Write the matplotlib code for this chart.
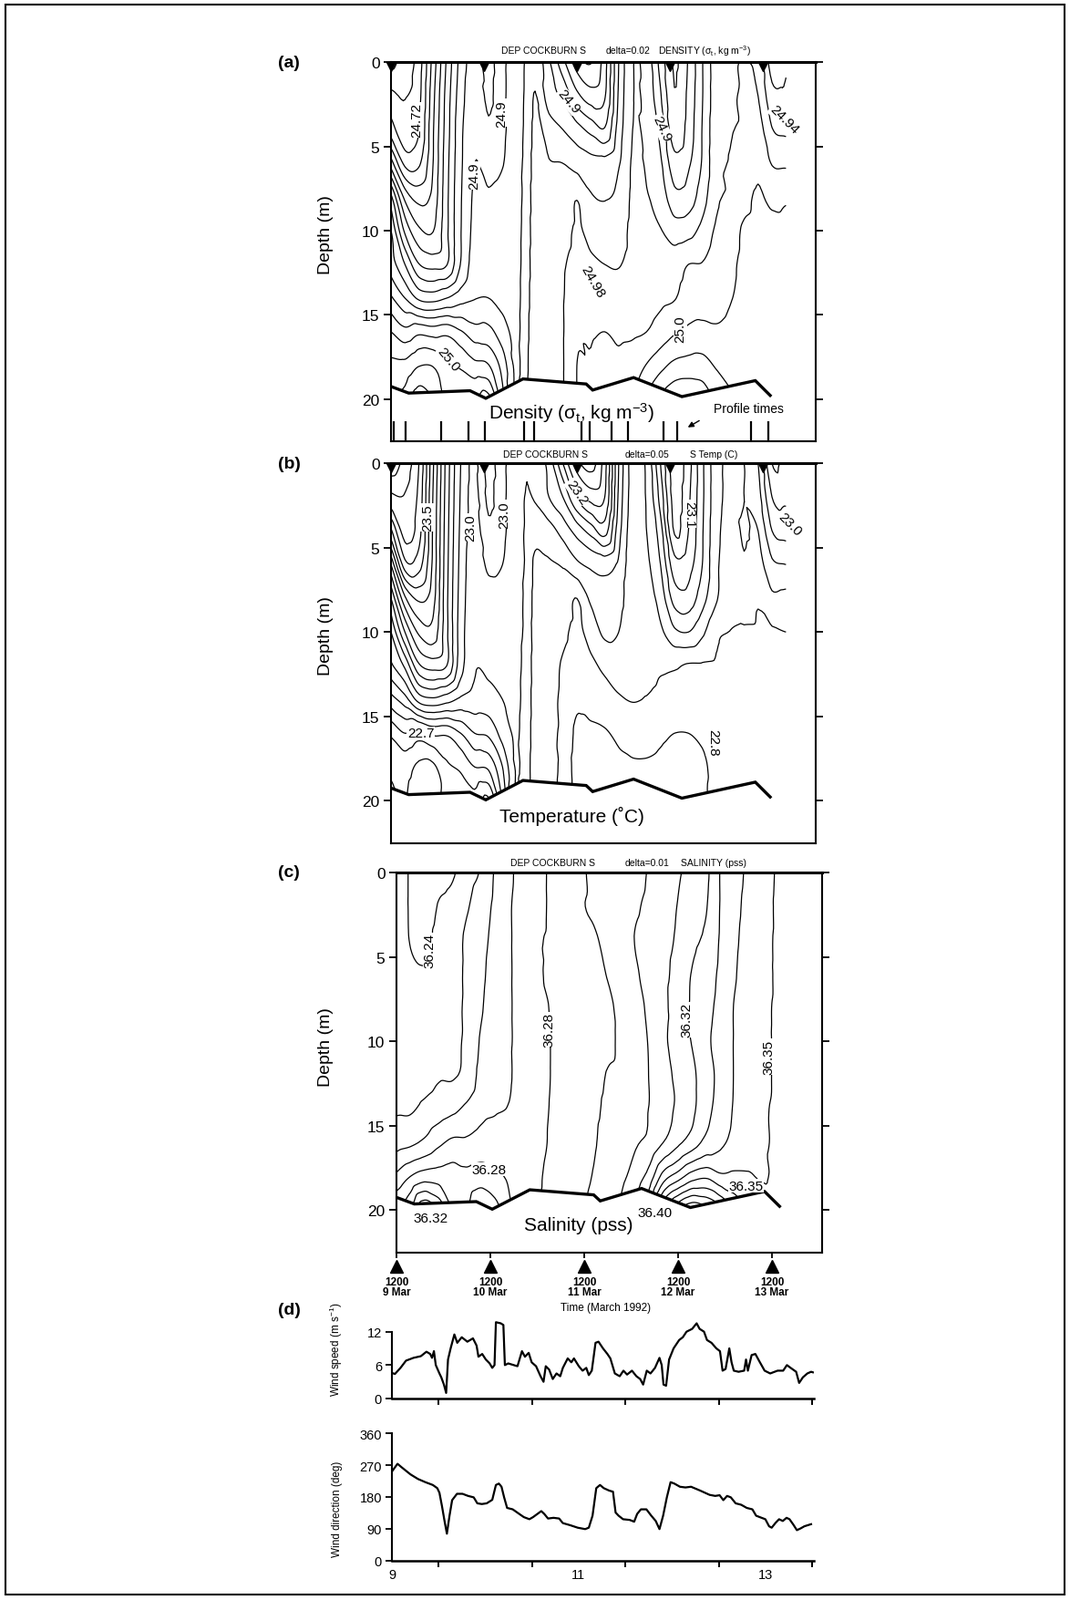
import numpy as np
import matplotlib
matplotlib.use('Agg')
import matplotlib.pyplot as plt
import matplotlib.tri as mtri
from matplotlib.patches import Rectangle

plt.rcParams['font.family'] = ['Liberation Sans', 'DejaVu Sans']
plt.rcParams['mathtext.fontset'] = 'custom'
plt.rcParams['mathtext.rm'] = 'Liberation Sans'
plt.rcParams['mathtext.it'] = 'Liberation Sans:italic'
plt.rcParams['mathtext.bf'] = 'Liberation Sans:bold'

# ---------------- data ----------------
depth_rows = [0, 2, 4, 6, 8, 10, 12, 14, 16, 18, 20]

section_times = [9.5, 9.65, 9.8, 9.95, 10.1, 10.25, 10.4, 10.55, 10.7, 10.85, 10.95, 11.05,
                 11.2, 11.35, 11.5, 11.65, 11.8, 11.95, 12.1, 12.25, 12.4, 12.55, 12.7,
                 12.85, 13.0, 13.15, 13.3, 13.45, 13.6, 13.75]

density_cols = [
    [24.675, 24.705, 24.730, 24.790, 24.865, 24.900, 24.910, 24.943, 24.980, 25.005, 25.020],
    [24.689, 24.699, 24.705, 24.735, 24.794, 24.836, 24.880, 24.920, 24.966, 25.006, 25.027],
    [24.710, 24.714, 24.719, 24.737, 24.773, 24.804, 24.841, 24.896, 24.975, 25.019, 25.052],
    [24.767, 24.773, 24.777, 24.779, 24.786, 24.799, 24.833, 24.892, 24.971, 25.019, 25.041],
    [24.823, 24.828, 24.830, 24.833, 24.835, 24.836, 24.839, 24.900, 24.974, 25.004, 25.017],
    [24.867, 24.871, 24.875, 24.876, 24.878, 24.879, 24.881, 24.912, 24.962, 24.997, 25.014],
    [24.889, 24.894, 24.896, 24.900, 24.903, 24.905, 24.909, 24.919, 24.948, 24.986, 25.019],
    [24.873, 24.876, 24.883, 24.893, 24.902, 24.906, 24.910, 24.920, 24.946, 24.981, 25.027],
    [24.896, 24.896, 24.896, 24.899, 24.907, 24.908, 24.910, 24.914, 24.929, 24.952, 24.969],
    [24.909, 24.911, 24.912, 24.914, 24.914, 24.915, 24.915, 24.915, 24.916, 24.916, 24.916],
    [24.922, 24.923, 24.924, 24.925, 24.926, 24.927, 24.928, 24.930, 24.932, 24.934, 24.935],
    [24.935, 24.941, 24.945, 24.948, 24.950, 24.951, 24.952, 24.953, 24.955, 24.956, 24.957],
    [24.903, 24.909, 24.930, 24.941, 24.944, 24.947, 24.948, 24.950, 24.951, 24.951, 24.951],
    [24.866, 24.896, 24.920, 24.940, 24.947, 24.953, 24.958, 24.959, 24.959, 24.959, 24.959],
    [24.830, 24.866, 24.908, 24.932, 24.959, 24.962, 24.965, 24.971, 24.977, 24.980, 24.980],
    [24.819, 24.849, 24.894, 24.927, 24.942, 24.954, 24.963, 24.969, 24.978, 24.981, 24.981],
    [24.852, 24.858, 24.882, 24.927, 24.939, 24.945, 24.960, 24.969, 24.980, 24.987, 24.987],
    [24.920, 24.923, 24.929, 24.938, 24.944, 24.950, 24.959, 24.967, 24.977, 24.983, 24.986],
    [24.959, 24.959, 24.960, 24.962, 24.963, 24.965, 24.966, 24.971, 24.977, 24.990, 25.001],
    [24.952, 24.954, 24.955, 24.958, 24.961, 24.964, 24.967, 24.972, 24.980, 25.001, 25.018],
    [24.913, 24.922, 24.934, 24.943, 24.952, 24.961, 24.972, 24.976, 24.989, 25.014, 25.043],
    [24.878, 24.881, 24.886, 24.908, 24.926, 24.950, 24.971, 24.979, 24.998, 25.025, 25.058],
    [24.902, 24.905, 24.908, 24.917, 24.929, 24.953, 24.980, 24.989, 25.004, 25.028, 25.061],
    [24.939, 24.939, 24.941, 24.942, 24.951, 24.966, 24.981, 24.990, 25.006, 25.028, 25.055],
    [24.971, 24.971, 24.973, 24.974, 24.976, 24.983, 24.989, 24.992, 25.003, 25.018, 25.037],
    [24.978, 24.978, 24.979, 24.981, 24.983, 24.990, 24.996, 24.999, 25.005, 25.013, 25.024],
    [24.980, 24.981, 24.982, 24.986, 24.993, 25.003, 25.004, 25.004, 25.009, 25.011, 25.017],
    [24.974, 24.980, 24.989, 24.995, 25.003, 25.006, 25.007, 25.007, 25.009, 25.011, 25.015],
    [24.931, 24.946, 24.961, 24.979, 24.994, 25.008, 25.009, 25.009, 25.011, 25.012, 25.012],
    [24.938, 24.944, 24.956, 24.977, 24.997, 25.007, 25.010, 25.010, 25.011, 25.012, 25.012],
]

temperature_cols = [
    [23.68, 23.59, 23.44, 23.25, 23.10, 23.00, 22.94, 22.83, 22.71, 22.66, 22.64],
    [23.63, 23.595, 23.575, 23.48, 23.29, 23.15, 23.01, 22.88, 22.75, 22.67, 22.65],
    [23.55, 23.535, 23.52, 23.47, 23.36, 23.26, 23.14, 22.97, 22.73, 22.64, 22.62],
    [23.36, 23.35, 23.345, 23.34, 23.32, 23.28, 23.17, 22.99, 22.76, 22.64, 22.63],
    [23.18, 23.175, 23.17, 23.165, 23.16, 23.16, 23.15, 22.97, 22.76, 22.69, 22.66],
    [23.05, 23.045, 23.04, 23.035, 23.03, 23.025, 23.02, 22.94, 22.80, 22.71, 22.67],
    [22.99, 22.985, 22.98, 22.97, 22.965, 22.96, 22.955, 22.93, 22.85, 22.75, 22.68],
    [23.07, 23.06, 23.04, 23.01, 22.98, 22.97, 22.96, 22.93, 22.86, 22.76, 22.64],
    [23.01, 23.01, 23.01, 23.00, 22.975, 22.97, 22.965, 22.95, 22.92, 22.85, 22.80],
    [22.98, 22.975, 22.97, 22.965, 22.965, 22.96, 22.96, 22.96, 22.955, 22.955, 22.955],
    [22.952, 22.948, 22.945, 22.945, 22.94, 22.94, 22.935, 22.93, 22.925, 22.92, 22.915],
    [22.96, 22.955, 22.92, 22.89, 22.885, 22.88, 22.88, 22.88, 22.88, 22.88, 22.88],
    [23.02, 23.00, 22.93, 22.895, 22.885, 22.875, 22.87, 22.865, 22.86, 22.86, 22.86],
    [23.15, 23.05, 22.97, 22.905, 22.88, 22.86, 22.845, 22.84, 22.84, 22.84, 22.84],
    [23.28, 23.16, 23.02, 22.94, 22.85, 22.84, 22.83, 22.81, 22.79, 22.78, 22.78],
    [23.32, 23.22, 23.07, 22.96, 22.91, 22.87, 22.84, 22.82, 22.79, 22.78, 22.78],
    [23.22, 23.20, 23.12, 22.97, 22.93, 22.91, 22.86, 22.83, 22.795, 22.77, 22.77],
    [23.00, 22.99, 22.97, 22.94, 22.92, 22.90, 22.87, 22.845, 22.81, 22.79, 22.78],
    [22.88, 22.88, 22.875, 22.87, 22.865, 22.86, 22.857, 22.852, 22.82, 22.795, 22.79],
    [22.91, 22.905, 22.90, 22.89, 22.88, 22.87, 22.86, 22.848, 22.82, 22.795, 22.79],
    [23.05, 23.02, 22.98, 22.95, 22.92, 22.89, 22.855, 22.84, 22.81, 22.79, 22.79],
    [23.18, 23.17, 23.155, 23.08, 23.02, 22.94, 22.855, 22.835, 22.80, 22.78, 22.78],
    [23.12, 23.11, 23.10, 23.07, 23.03, 22.95, 22.845, 22.825, 22.80, 22.79, 22.785],
    [23.01, 23.01, 23.005, 23.00, 22.97, 22.91, 22.845, 22.83, 22.81, 22.79, 22.79],
    [22.92, 22.92, 22.915, 22.91, 22.905, 22.86, 22.845, 22.84, 22.83, 22.82, 22.82],
    [22.89, 22.89, 22.885, 22.88, 22.87, 22.849, 22.845, 22.84, 22.835, 22.83, 22.83],
    [22.90, 22.90, 22.905, 22.895, 22.875, 22.845, 22.84, 22.84, 22.835, 22.83, 22.83],
    [22.95, 22.93, 22.90, 22.88, 22.855, 22.845, 22.84, 22.84, 22.835, 22.83, 22.83],
    [23.10, 23.05, 23.00, 22.94, 22.89, 22.845, 22.84, 22.84, 22.835, 22.83, 22.83],
    [23.08, 23.06, 23.02, 22.95, 22.885, 22.85, 22.84, 22.84, 22.835, 22.83, 22.83],
]

salinity_times = [9.5, 9.65, 9.8, 9.95, 10.1, 10.25, 10.4, 10.55, 10.7, 10.85, 11.0, 11.15,
                  11.3, 11.45, 11.6, 11.75, 11.9, 12.05, 12.2, 12.35, 12.5, 12.65, 12.8,
                  12.95, 13.1, 13.25, 13.4, 13.55, 13.75]

salinity_cols = [
    [36.246, 36.246, 36.246, 36.246, 36.246, 36.246, 36.247, 36.249, 36.256, 36.272, 36.290],
    [36.239, 36.239, 36.2395, 36.242, 36.245, 36.246, 36.247, 36.249, 36.258, 36.280, 36.300],
    [36.236, 36.236, 36.237, 36.241, 36.245, 36.246, 36.247, 36.252, 36.262, 36.285, 36.320],
    [36.237, 36.2405, 36.243, 36.245, 36.246, 36.247, 36.249, 36.255, 36.268, 36.285, 36.310],
    [36.239, 36.243, 36.245, 36.246, 36.247, 36.248, 36.249, 36.258, 36.272, 36.285, 36.290],
    [36.246, 36.249, 36.252, 36.252, 36.252, 36.252, 36.253, 36.262, 36.272, 36.283, 36.290],
    [36.251, 36.255, 36.257, 36.258, 36.259, 36.261, 36.263, 36.267, 36.274, 36.285, 36.300],
    [36.261, 36.262, 36.263, 36.264, 36.265, 36.266, 36.267, 36.269, 36.275, 36.282, 36.295],
    [36.268, 36.269, 36.269, 36.269, 36.269, 36.269, 36.269, 36.2705, 36.276, 36.279, 36.282],
    [36.274, 36.274, 36.274, 36.274, 36.274, 36.274, 36.275, 36.275, 36.276, 36.277, 36.278],
    [36.278, 36.278, 36.279, 36.279, 36.278, 36.278, 36.278, 36.278, 36.278, 36.279, 36.2805],
    [36.281, 36.281, 36.281, 36.281, 36.2805, 36.2802, 36.2802, 36.2805, 36.281, 36.282, 36.282],
    [36.284, 36.284, 36.284, 36.284, 36.284, 36.284, 36.284, 36.284, 36.285, 36.285, 36.286],
    [36.288, 36.289, 36.287, 36.286, 36.286, 36.286, 36.286, 36.287, 36.287, 36.288, 36.289],
    [36.292, 36.291, 36.289, 36.287, 36.286, 36.286, 36.287, 36.288, 36.289, 36.2905, 36.292],
    [36.294, 36.293, 36.292, 36.2905, 36.288, 36.288, 36.2905, 36.292, 36.294, 36.296, 36.298],
    [36.296, 36.296, 36.295, 36.294, 36.293, 36.292, 36.292, 36.293, 36.295, 36.298, 36.302],
    [36.297, 36.299, 36.3005, 36.299, 36.297, 36.296, 36.296, 36.297, 36.299, 36.305, 36.315],
    [36.301, 36.302, 36.303, 36.303, 36.302, 36.301, 36.3005, 36.3005, 36.303, 36.315, 36.330],
    [36.304, 36.305, 36.306, 36.307, 36.307, 36.308, 36.306, 36.306, 36.3105, 36.335, 36.370],
    [36.309, 36.3105, 36.312, 36.315, 36.318, 36.316, 36.313, 36.312, 36.318, 36.345, 36.390],
    [36.313, 36.315, 36.318, 36.3205, 36.321, 36.3205, 36.318, 36.318, 36.325, 36.355, 36.4005],
    [36.318, 36.3195, 36.322, 36.325, 36.327, 36.328, 36.326, 36.327, 36.333, 36.358, 36.395],
    [36.3305, 36.3305, 36.331, 36.332, 36.333, 36.334, 36.333, 36.334, 36.338, 36.352, 36.385],
    [36.336, 36.337, 36.338, 36.339, 36.3405, 36.3405, 36.3405, 36.341, 36.343, 36.352, 36.370],
    [36.342, 36.343, 36.344, 36.345, 36.345, 36.345, 36.345, 36.346, 36.347, 36.351, 36.360],
    [36.346, 36.346, 36.347, 36.347, 36.348, 36.348, 36.348, 36.349, 36.349, 36.349, 36.358],
    [36.3506, 36.351, 36.351, 36.351, 36.351, 36.351, 36.351, 36.351, 36.351, 36.352, 36.353],
    [36.353, 36.353, 36.353, 36.353, 36.353, 36.353, 36.353, 36.353, 36.353, 36.353, 36.353],
]

bottom_t = [9.5, 9.69, 10.35, 10.52, 10.92, 11.6, 11.67, 12.11, 12.63, 13.42, 13.58]
bottom_z = [19.25, 19.64, 19.5, 19.95, 18.8, 19.1, 19.46, 18.72, 19.85, 18.9, 19.78]

noon_times = [9.5, 10.5, 11.5, 12.5, 13.5]
noon_labels = ['9 Mar', '10 Mar', '11 Mar', '12 Mar', '13 Mar']
profile_times = [9.53, 9.66, 10.04, 10.33, 10.51, 10.93, 11.04, 11.55, 11.64, 11.87,
                 12.05, 12.43, 12.58, 13.37, 13.56]

density_labels = [('24.72', 9.78, 3.4, 90), ('24.9', 10.39, 6.7, 90), ('24.9', 10.69, 3.0, 90),
                  ('24.9', 11.41, 2.3, -50), ('24.9', 12.41, 3.9, -65), ('24.94', 13.73, 3.4, -45),
                  ('24.98', 11.67, 13.0, -60), ('25.0', 12.61, 15.8, 90), ('25.0', 10.12, 17.6, -50)]
temperature_labels = [('23.5', 9.89, 3.2, 90), ('23.0', 10.36, 3.8, 90), ('23.0', 10.72, 3.0, 90),
                      ('23.2', 11.5, 1.7, -55), ('23.1', 12.71, 3.0, -90), ('23.0', 13.79, 3.6, -45),
                      ('22.7', 9.82, 16.0, 0), ('22.8', 12.96, 16.5, -90)]
salinity_labels = [('36.24', 9.856, 4.6, 90), ('36.28', 11.13, 9.3, 90), ('36.32', 12.59, 8.7, 90),
                   ('36.35', 13.46, 10.9, 90), ('36.28', 10.49, 17.6, 0), ('36.35', 13.22, 18.56, 0)]
salinity_labels_below = [('36.32', 9.86, 20.45), ('36.40', 12.25, 20.15)]

wind_speed_day = [
    9.000, 9.032, 9.092, 9.151, 9.231, 9.310, 9.370, 9.410, 9.430, 9.450,
    9.470, 9.509, 9.529, 9.557, 9.581, 9.601, 9.629, 9.669, 9.700, 9.748,
    9.808, 9.868, 9.907, 9.927, 9.967, 10.006, 10.047, 10.075, 10.099, 10.114,
    10.166, 10.194, 10.210, 10.246, 10.305, 10.345, 10.393, 10.425, 10.465, 10.497,
    10.544, 10.592, 10.624, 10.648, 10.684, 10.723, 10.763, 10.803, 10.831, 10.883,
    10.922, 10.950, 11.002, 11.042, 11.082, 11.109, 11.141, 11.181, 11.213, 11.261,
    11.308, 11.340, 11.388, 11.440, 11.480, 11.519, 11.571, 11.619, 11.659, 11.691,
    11.730, 11.770, 11.818, 11.866, 11.890, 11.909, 11.937, 11.969, 12.017, 12.077,
    12.116, 12.156, 12.216, 12.264, 12.296, 12.343, 12.375, 12.423, 12.475, 12.514,
    12.542, 12.574, 12.614, 12.638, 12.662, 12.713, 12.773, 12.793, 12.813, 12.853,
    12.893, 12.932, 12.992, 13.052, 13.131, 13.191, 13.231, 13.271, 13.330, 13.362,
    13.402, 13.450, 13.490, 13.509]
wind_speed = [
    4.6, 4.4, 5.5, 6.8, 7.3, 7.6, 8.4, 8.0, 7.3, 8.5,
    6.0, 4.5, 3.8, 2.5, 1.0, 7.0, 9.0, 11.5, 10.0, 11.0,
    10.2, 10.8, 9.5, 7.5, 8.0, 7.0, 6.3, 5.5, 6.0, 13.7,
    13.5, 13.2, 6.0, 6.3, 6.0, 5.8, 8.5, 7.5, 8.2, 6.5,
    5.8, 4.0, 3.0, 5.8, 5.2, 3.5, 4.5, 4.0, 5.5, 7.2,
    6.5, 7.2, 5.8, 5.0, 5.5, 4.2, 5.0, 10.0, 10.2, 9.0,
    8.0, 7.2, 4.5, 4.0, 5.0, 4.3, 5.0, 4.0, 3.5, 2.5,
    5.0, 4.5, 5.5, 7.3, 6.0, 2.5, 2.3, 7.0, 9.0, 10.5,
    11.0, 12.0, 12.5, 13.5, 12.5, 12.0, 10.5, 10.0, 9.0, 8.5,
    5.0, 5.3, 9.0, 6.5, 5.0, 4.8, 5.0, 7.0, 5.0, 7.8,
    8.0, 6.8, 5.0, 4.5, 5.0, 5.0, 6.0, 5.5, 4.8, 2.8,
    3.8, 4.5, 4.8, 4.7]

wind_dir_day = [
    9.000, 9.060, 9.100, 9.199, 9.279, 9.358, 9.438, 9.486, 9.509, 9.537,
    9.565, 9.589, 9.617, 9.645, 9.697, 9.756, 9.816, 9.876, 9.915, 9.963,
    10.015, 10.075, 10.114, 10.146, 10.174, 10.202, 10.234, 10.294, 10.353, 10.413,
    10.473, 10.512, 10.600, 10.632, 10.672, 10.731, 10.791, 10.831, 10.910, 10.990,
    11.070, 11.109, 11.149, 11.189, 11.229, 11.269, 11.328, 11.368, 11.396, 11.428,
    11.476, 11.547, 11.595, 11.627, 11.667, 11.726, 11.778, 11.826, 11.866, 11.905,
    11.945, 11.985, 12.025, 12.085, 12.144, 12.204, 12.303, 12.403, 12.463, 12.510,
    12.550, 12.590, 12.630, 12.682, 12.741, 12.801, 12.861, 12.901, 12.940, 13.000,
    13.040, 13.068, 13.107, 13.147, 13.187, 13.227, 13.259, 13.299, 13.338, 13.378,
    13.418, 13.490]
wind_dir = [
    252, 274, 265, 244, 231, 222, 214, 205, 192, 153,
    110, 76, 127, 171, 189, 189, 183, 179, 162, 160,
    162, 172, 214, 218, 209, 179, 149, 145, 134, 123,
    117, 123, 140, 132, 119, 121, 119, 106, 100, 93,
    89, 93, 127, 205, 214, 205, 198, 195, 136, 127,
    117, 115, 110, 132, 145, 145, 127, 112, 89, 127,
    179, 222, 218, 209, 207, 209, 198, 186, 183, 185,
    171, 183, 179, 162, 158, 149, 145, 127, 123, 117,
    97, 93, 106, 117, 112, 121, 117, 102, 86, 91,
    97, 103]

# ---------------- helpers ----------------
W, H = 1174, 1756
fig = plt.figure(figsize=(W / 100, H / 100), dpi=100)


def fbox(l, r, t, b):
    return [l / W, 1 - b / H, (r - l) / W, (b - t) / H]


def refined(times, cols, scale=5.5):
    V = np.array(cols, dtype=float)          # (nt, nz)
    nt, nz = V.shape
    x = np.repeat(np.array(times, float), nz)
    y = np.tile(np.array(depth_rows, float), nt) / scale
    tris = []
    for i in range(nt - 1):
        for j in range(nz - 1):
            a = i * nz + j
            b = (i + 1) * nz + j
            c = i * nz + j + 1
            d = (i + 1) * nz + j + 1
            tris.append([a, b, d])
            tris.append([a, d, c])
    tri = mtri.Triangulation(x, y, np.array(tris))
    interp = mtri.CubicTriInterpolator(tri, V.ravel(), kind='geom')
    rtri, rv = mtri.UniformTriRefiner(tri).refine_field(V.ravel(), triinterpolator=interp, subdiv=3)
    return mtri.Triangulation(rtri.x, rtri.y * scale, rtri.triangles), rv


def section(ax, times, cols, levels, xlim, labels):
    tri, val = refined(times, cols)
    ax.tricontour(tri, val, levels=levels, colors='k', linewidths=0.9, zorder=1)
    ax.fill_between(bottom_t, bottom_z, 23.5, color='white', zorder=2, lw=0)
    ax.plot(bottom_t, bottom_z, color='k', lw=2.4, zorder=3, solid_joinstyle='miter')
    ax.set_xlim(*xlim)
    ax.set_ylim(22.5, 0)
    ax.set_yticks([0, 5, 10, 15, 20])
    ax.tick_params(axis='y', direction='out', length=6, width=1.3, labelsize=12.5,
                   left=True, right=True, labelright=False, pad=3)
    ax.set_xticks([])
    for s in ax.spines.values():
        s.set_linewidth(1.5)
    ax.spines['top'].set_linewidth(2.2)
    for txt, t, z, rot in labels:
        ax.text(t, z, txt, rotation=rot, ha='center', va='center', fontsize=11, zorder=4,
                rotation_mode='anchor',
                bbox=dict(facecolor='white', edgecolor='none', pad=0.4))


# ---------------- panel a ----------------
ax_a = fig.add_axes(fbox(429, 895, 69.3, 485))
section(ax_a, section_times, density_cols, np.round(np.arange(24.66, 25.07, 0.02), 2),
        (9.5, 14.07), density_labels)
ax_a.plot(noon_times, [0.28] * 5, 'v', color='k', ms=7.5, clip_on=False, zorder=5)
ax_a.vlines(profile_times, 21.3, 22.5, color='k', lw=1.6, zorder=3)
ax_a.text(11.44, 20.75, 'Density ($\\mathrm{\\sigma_t}$, kg m$^{-3}$)', ha='center', va='center',
          fontsize=15, zorder=4)
ax_a.text(13.35, 20.55, 'Profile times', ha='center', va='center', fontsize=10, zorder=4)
ax_a.annotate('', xy=(12.67, 21.75), xytext=(12.84, 21.2),
              arrowprops=dict(arrowstyle='-|>', color='k', lw=1.0, mutation_scale=9), zorder=4)

# ---------------- panel b ----------------
ax_b = fig.add_axes(fbox(429, 895, 509.3, 925.5))
section(ax_b, section_times, temperature_cols, np.round(np.arange(22.60, 23.71, 0.05), 2),
        (9.5, 14.07), temperature_labels)
ax_b.plot(noon_times, [0.28] * 5, 'v', color='k', ms=7.5, clip_on=False, zorder=5)
ax_b.text(11.45, 20.85, 'Temperature (\u02daC)', ha='center', va='center', fontsize=15, zorder=4)

# ---------------- panel c ----------------
ax_c = fig.add_axes(fbox(435, 901.7, 958.3, 1374.5))
section(ax_c, salinity_times, salinity_cols, np.round(np.arange(36.23, 36.41, 0.01), 2),
        (9.5, 14.03), salinity_labels)
for txt, t, z in salinity_labels_below:
    ax_c.text(t, z, txt, ha='center', va='center', fontsize=11, zorder=4)
ax_c.text(11.44, 20.9, 'Salinity (pss)', ha='center', va='center', fontsize=15, zorder=4)
ax_c.set_xticks(noon_times)
ax_c.tick_params(axis='x', direction='out', length=4, width=1.3, labelbottom=False)
ax_c.plot(noon_times, [23.33] * 5, '^', color='k', ms=10, clip_on=False, zorder=5)
for t, lab in zip(noon_times, noon_labels):
    ax_c.text(t, 24.25, '1200', ha='center', va='center', fontsize=8.5, fontweight='bold')
    ax_c.text(t, 24.87, lab, ha='center', va='center', fontsize=8.5, fontweight='bold')
fig.text(665 / W, 1 - 1435 / H, 'Time (March 1992)', ha='center', va='center', fontsize=8.5)

# ---------------- panel d ----------------
ax_s = fig.add_axes(fbox(430, 893, 1446.4, 1535))
ax_s.plot(wind_speed_day, wind_speed, color='k', lw=1.6)
ax_s.set_xlim(9, 13.52)
ax_s.set_ylim(0, 14.5)
ax_s.set_yticks([0, 6, 12])

ax_d = fig.add_axes(fbox(430, 893, 1573.3, 1712.7))
ax_d.plot(wind_dir_day, wind_dir, color='k', lw=1.6)
ax_d.set_xlim(9, 13.52)
ax_d.set_ylim(0, 360)
ax_d.set_yticks([0, 90, 180, 270, 360])

for ax in (ax_s, ax_d):
    ax.spines['top'].set_visible(False)
    ax.spines['right'].set_visible(False)
    ax.spines['left'].set_linewidth(1.5)
    ax.spines['bottom'].set_linewidth(1.8)
    ax.set_xticks([9, 11, 13])
    ax.set_xticks([9.5, 10.5, 11.5, 12.5, 13.5], minor=True)
    ax.tick_params(axis='x', which='major', length=0, labelsize=10.5, pad=6)
    ax.tick_params(axis='x', which='minor', length=5, width=1.4, direction='out')
    ax.tick_params(axis='y', length=5, width=1.3, direction='out', labelsize=10.5, pad=3)
ax_s.spines['left'].set_bounds(0, 12)
ax_s.tick_params(axis='x', which='major', labelbottom=False)

fig.text(369 / W, 1 - 1480 / H, 'Wind speed (m s$^{-1}$)', rotation=90, ha='center', va='center',
         fontsize=8.5)
fig.text(370 / W, 1 - 1655 / H, 'Wind direction (deg)', rotation=90, ha='center', va='center',
         fontsize=8.5)

# ---------------- figure text ----------------
for lab, y in (('(a)', 70), ('(b)', 509), ('(c)', 958), ('(d)', 1438)):
    fig.text(317 / W, 1 - y / H, lab, ha='center', va='center', fontsize=14, fontweight='bold')

for y in (277 - 19, 717 - 19, 1166 - 17):
    fig.text(357 / W, 1 - y / H, 'Depth (m)', rotation=90, ha='center', va='center', fontsize=14)

titles = [
    (56, [(549.5, 'DEP COCKBURN S'), (664.8, 'delta=0.02'),
          (722.4, 'DENSITY ($\\mathrm{\\sigma_t}$, kg m$^{-3}$)')]),
    (499, [(551.6, 'DEP COCKBURN S'), (685.3, 'delta=0.05'), (757.4, 'S Temp (C)')]),
    (946.7, [(559.8, 'DEP COCKBURN S'), (685.3, 'delta=0.01'), (747.0, 'SALINITY (pss)')]),
]
for y, parts in titles:
    for x, s in parts:
        fig.text(x / W, 1 - y / H, s, ha='left', va='center', fontsize=7.5)

fig.patches.append(Rectangle((6 / W, 6 / H), (1168 - 6) / W, (1750 - 6) / H,
                             transform=fig.transFigure, fill=False, lw=1.5, ec='k'))

fig.savefig('out.png', dpi=100)
